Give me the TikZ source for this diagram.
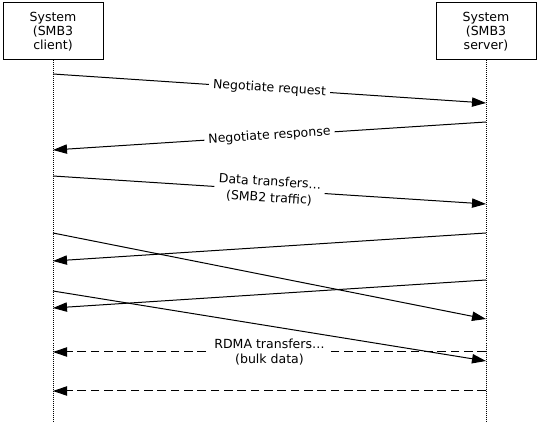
\documentclass[tikz,border=0pt]{standalone}
\usepackage{fontspec}
\setmainfont{DejaVu Sans}
\usetikzlibrary{arrows.meta}
\begin{document}
\begin{tikzpicture}[x=0.75pt,y=-0.75pt,
  font=\fontsize{9.4pt}{10.6pt}\selectfont,
  sysbox/.style={draw, line width=0.75pt, minimum width=75pt, minimum height=42.75pt, align=center, inner sep=0pt},
  life/.style={line width=0.6pt, dash pattern=on 0.75pt off 0.75pt},
  msg/.style={line width=0.75pt, -{Triangle[length=10.5pt,width=7pt]}},
  dmsg/.style={msg, dash pattern=on 6.5pt off 3.5pt},
  lbl/.style={fill=white, align=center, inner xsep=3pt, inner ysep=1pt, sloped}]
\useasboundingbox (0,0) rectangle (540,424);
\node[sysbox] (client) at (53,31.5) {System\\(SMB3\\client)};
\node[sysbox] (server) at (486,31.5) {System\\(SMB3\\server)};
\coordinate (cend) at (53,421);
\coordinate (send) at (486,421);
\draw[life] (client.south) -- (cend);
\draw[life] (server.south) -- (send);
% messages
\coordinate (c1) at (53,74);    \coordinate (s1) at (486,103);
\coordinate (s2) at (486,122);  \coordinate (c2) at (53,150);
\coordinate (c3) at (53,176);   \coordinate (s3) at (486,204);
\coordinate (c4) at (53,233);   \coordinate (s4) at (486,319);
\coordinate (s5) at (486,233);  \coordinate (c5) at (53,261);
\coordinate (s6) at (486,280);  \coordinate (c6) at (53,308);
\coordinate (c7) at (53,291);   \coordinate (s7) at (486,361);
\coordinate (s8) at (486,352);  \coordinate (c8) at (53,352);
\coordinate (s9) at (486,391);  \coordinate (c9) at (53,391);
\draw[msg] (c1) -- node[lbl] (l1) {Negotiate request} (s1);
\draw[msg] (s2) -- node[lbl] (l2) {Negotiate response} (c2);
\draw[msg] (c3) -- node[lbl] (l3) {Data transfers…\\[1.5pt](SMB2 traffic)} (s3);
\draw[dmsg] (s8) -- node[lbl, inner ysep=0.5pt] (l8) {RDMA transfers…\\(bulk data)} (c8);
\draw[dmsg] (s9) -- (c9);
\draw[msg] (c4) -- (s4);
\draw[msg] (s5) -- (c5);
\draw[msg] (s6) -- (c6);
\draw[msg] (c7) -- (s7);
\end{tikzpicture}
\end{document}
